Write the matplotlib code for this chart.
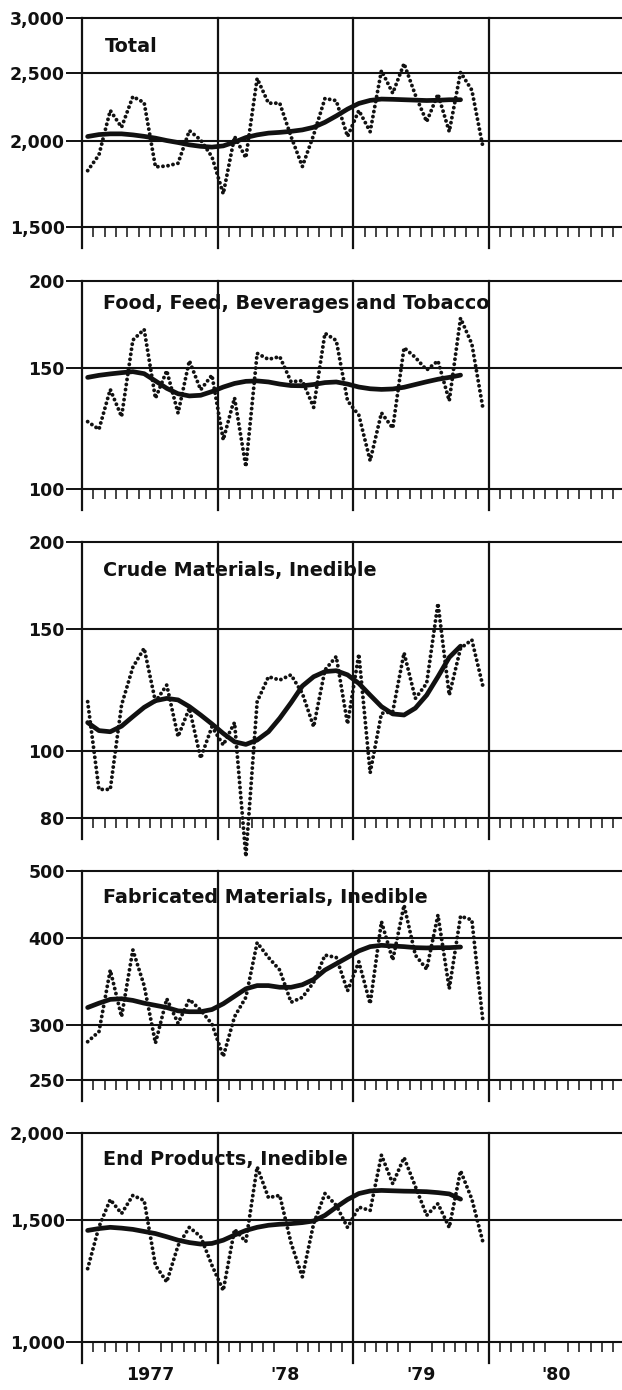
import numpy as np
import matplotlib
matplotlib.use("Agg")
import matplotlib.pyplot as plt
from matplotlib.ticker import FixedLocator, NullLocator, FixedFormatter

# ---------------- data (monthly, Jan 1977 - Dec 1979) ----------------
total = [1810, 1907, 2210, 2090, 2314, 2268, 1833, 1838, 1855, 2067, 2004, 1895,
         1676, 2027, 1889, 2458, 2264, 2264, 2027, 1835, 2038, 2300, 2283, 2027,
         2210, 2060, 2523, 2340, 2582, 2326, 2129, 2333, 2060, 2508, 2364, 1950]
total_trend = [2027, 2040, 2045, 2045, 2038, 2028, 2016, 2000, 1987, 1972, 1962, 1957,
               1965, 1990, 2020, 2038, 2050, 2055, 2062, 2072, 2090, 2125, 2170, 2220,
               2262, 2285, 2295, 2293, 2290, 2287, 2284, 2286, 2290, 2290]

food = [125.3, 122.1, 139.5, 127.4, 164.4, 170.4, 135.4, 148.5, 128.9, 153.5, 139.3, 146.3,
        117.9, 135.6, 107.8, 157.3, 154.2, 155.6, 143.1, 143.6, 131.4, 168.2, 164.2, 134.3,
        128.0, 110.0, 129.0, 122.6, 160.3, 155.2, 148.8, 153.4, 134.3, 176.9, 162.3, 130.4]
food_trend = [145.2, 146.2, 146.9, 147.5, 148.0, 147.0, 143.5, 140.0, 137.5, 136.5, 136.8, 138.5,
              140.6, 142.3, 143.3, 143.5, 143.0, 142.0, 141.3, 141.2, 141.8, 142.7, 143.0, 142.0,
              140.6, 139.8, 139.5, 139.7, 140.5, 141.8, 143.1, 144.3, 145.2, 146.3]

crude = [117.7, 87.9, 87.9, 116.4, 132.0, 140.6, 117.7, 124.4, 104.8, 115.2, 97.5, 108.3,
         101.9, 109.8, 70.3, 117.7, 127.9, 126.5, 128.7, 121.0, 108.3, 130.8, 136.8, 109.3,
         137.9, 92.9, 113.2, 113.9, 138.5, 119.0, 125.1, 163.3, 120.3, 140.6, 144.6, 123.5]
crude_trend = [109.8, 106.9, 106.5, 108.5, 112.0, 115.5, 118.1, 119.0, 118.4, 115.8, 112.6, 109.3,
               105.9, 103.0, 102.1, 103.6, 106.5, 111.4, 117.3, 124.0, 127.9, 130.1, 130.5, 128.7,
               125.1, 120.3, 115.8, 113.0, 112.6, 115.2, 120.3, 127.9, 136.4, 141.6]

fabricated = [283.8, 293.4, 360.0, 308.4, 384.9, 341.9, 282.5, 327.3, 301.7, 326.6, 315.1, 301.0,
              270.1, 308.4, 328.8, 394.3, 375.4, 360.0, 323.5, 328.8, 345.6, 378.3, 375.4, 336.0,
              370.0, 321.9, 422.8, 372.2, 446.6, 378.3, 361.0, 432.2, 338.3, 430.5, 425.2, 301.7]
fabricated_trend = [317.9, 322.5, 326.6, 327.3, 325.5, 322.5, 320.2, 317.9, 314.4, 313.5, 313.5, 315.8,
                    321.9, 330.0, 338.3, 341.9, 341.9, 340.0, 340.0, 342.9, 349.0, 360.0, 367.6, 375.4,
                    383.6, 389.1, 390.8, 389.9, 389.1, 387.8, 387.4, 387.8, 387.8, 388.6]

end_products = [1275, 1464, 1603, 1530, 1625, 1598, 1289, 1220, 1376, 1462, 1418, 1289,
                1186, 1452, 1394, 1786, 1613, 1625, 1388, 1241, 1480, 1635, 1572, 1461,
                1563, 1546, 1857, 1689, 1842, 1674, 1521, 1581, 1461, 1763, 1605, 1388]
end_products_trend = [1447, 1456, 1462, 1458, 1452, 1442, 1432, 1417, 1401, 1390, 1383, 1386,
                      1401, 1425, 1447, 1462, 1472, 1477, 1480, 1485, 1493, 1521, 1563, 1603,
                      1635, 1649, 1652, 1650, 1648, 1647, 1645, 1640, 1633, 1605]

titles = ["Total", "Food, Feed, Beverages and Tobacco", "Crude Materials, Inedible",
          "Fabricated Materials, Inedible", "End Products, Inedible"]
yticks = [[1500, 2000, 2500, 3000], [100, 150, 200], [80, 100, 150, 200],
          [250, 300, 400, 500], [1000, 1500, 2000]]
year_labels = ["1977", "'78", "'79", "'80"]

series = [total, food, crude, fabricated, end_products]
trends = [total_trend, food_trend, crude_trend, fabricated_trend, end_products_trend]

# ---------------- layout ----------------
W, H = 622, 1390
fig = plt.figure(figsize=(W / 100, H / 100), dpi=100)
fig.patch.set_facecolor("white")

left_px = 82
px_per_month = 11.3
xmax = (W - left_px) / px_per_month

# (top_px, bottom_px) of each plot frame
frames = [(18.3, 227.3), (281.3, 489.3), (542.4, 817.7), (871.1, 1079.9), (1132.7, 1342.0)]
title_base = [0.839, 0.867, 0.878, 0.847, 0.846]

FONT = "DejaVu Sans"
ink = "#111111"

for k in range(5):
    top, bot = frames[k]
    ax = fig.add_axes([left_px / W, (H - bot) / H, (W - left_px) / W, (bot - top) / H])
    ax.set_facecolor("white")
    ax.set_yscale("log")
    ax.set_xlim(0, xmax)
    ax.set_ylim(yticks[k][0], yticks[k][-1])
    for s in ax.spines.values():
        s.set_visible(False)

    # grid / frame lines
    for v in yticks[k]:
        ax.axhline(v, color=ink, lw=1.5, clip_on=False, zorder=1)
    ext = -21.0 / (bot - top)
    for yr in range(0, 48, 12):
        ax.axvline(yr, ymin=ext, ymax=1, color=ink, lw=1.6, clip_on=False, zorder=1)

    # y ticks
    ax.yaxis.set_major_locator(FixedLocator(yticks[k]))
    ax.yaxis.set_minor_locator(NullLocator())
    ax.yaxis.set_major_formatter(FixedFormatter([f"{v:,}" for v in yticks[k]]))
    ax.tick_params(axis="y", which="major", direction="out", length=11.5, width=1.4,
                   color=ink, pad=1, labelsize=12.5, labelcolor=ink)
    for lab in ax.get_yticklabels():
        lab.set_fontweight("bold")
        lab.set_family(FONT)

    # x ticks: monthly minor ticks, year labels on last panel
    months = [m for m in range(1, 48) if m % 12 != 0]
    ax.xaxis.set_minor_locator(FixedLocator(months))
    ax.tick_params(axis="x", which="minor", direction="out", length=7.5, width=1.1, color=ink)
    if k == 4:
        ax.xaxis.set_major_locator(FixedLocator([6, 18, 30, 42]))
        ax.xaxis.set_major_formatter(FixedFormatter(year_labels))
        ax.tick_params(axis="x", which="major", length=0, pad=17, labelsize=12.5, labelcolor=ink)
        for lab in ax.get_xticklabels():
            lab.set_fontweight("bold")
            lab.set_family(FONT)
    else:
        ax.xaxis.set_major_locator(NullLocator())

    # data
    vals = np.array(series[k], dtype=float)
    x = np.arange(len(vals)) + 0.5
    ax.plot(x, vals, color=ink, lw=2.8, linestyle=(0, (0.01, 1.3)),
            dash_capstyle="round", solid_capstyle="round", clip_on=False, zorder=3)
    tr = np.array(trends[k], dtype=float)
    xt = np.arange(len(tr)) + 0.5
    ax.plot(xt, tr, color=ink, lw=3.4, solid_capstyle="round", zorder=4)

    ax.text(2.0 if k == 0 else 1.85, title_base[k], titles[k], transform=ax.get_xaxis_transform(),
            fontsize=13.8, fontweight="bold", family=FONT, color=ink, ha="left", va="baseline", zorder=5)

fig.savefig("out.png", dpi=100, facecolor="white")
